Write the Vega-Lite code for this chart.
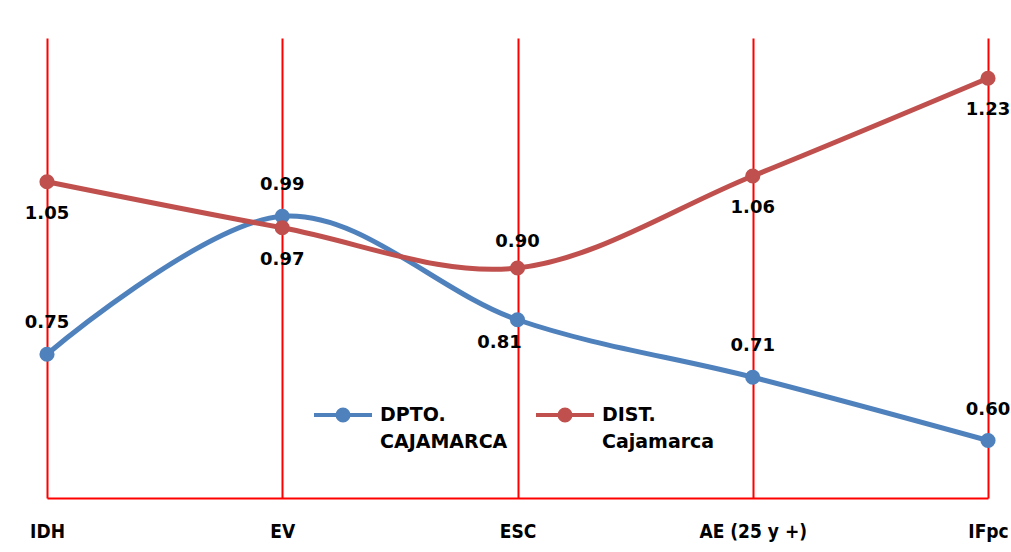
{
  "$schema": "https://vega.github.io/schema/vega-lite/v6.json",
  "width": 941,
  "height": 460,
  "autosize": {"type": "none"},
  "padding": {"left": 47, "top": 38, "right": 23, "bottom": 54},
  "background": "white",
  "config": {"view": {"stroke": null}},
  "data": {
    "values": [
      {"indicador": "IDH", "serie": "DPTO. CAJAMARCA", "valor": 0.75},
      {"indicador": "EV", "serie": "DPTO. CAJAMARCA", "valor": 0.99},
      {"indicador": "ESC", "serie": "DPTO. CAJAMARCA", "valor": 0.81},
      {"indicador": "AE (25 y +)", "serie": "DPTO. CAJAMARCA", "valor": 0.71},
      {"indicador": "IFpc", "serie": "DPTO. CAJAMARCA", "valor": 0.60},
      {"indicador": "IDH", "serie": "DIST. Cajamarca", "valor": 1.05},
      {"indicador": "EV", "serie": "DIST. Cajamarca", "valor": 0.97},
      {"indicador": "ESC", "serie": "DIST. Cajamarca", "valor": 0.90},
      {"indicador": "AE (25 y +)", "serie": "DIST. Cajamarca", "valor": 1.06},
      {"indicador": "IFpc", "serie": "DIST. Cajamarca", "valor": 1.23}
    ]
  },
  "encoding": {
    "x": {
      "field": "indicador",
      "type": "ordinal",
      "sort": ["IDH", "EV", "ESC", "AE (25 y +)", "IFpc"],
      "scale": {"type": "point", "padding": 0},
      "axis": {
        "title": null,
        "grid": true,
        "gridColor": "#ff0000",
        "gridWidth": 2,
        "gridOpacity": 1,
        "domainColor": "#ff0000",
        "domainWidth": 2,
        "ticks": false,
        "labelAngle": 0,
        "labelFont": "DejaVu Sans Condensed, Liberation Sans Narrow, sans-serif",
        "labelFontWeight": "bold",
        "labelFontSize": 19,
        "labelColor": "#000000",
        "labelPadding": 24,
        "labelBaseline": "top"
      }
    },
    "y": {
      "field": "valor",
      "type": "quantitative",
      "scale": {"domain": [0.5, 1.3], "nice": false, "zero": false},
      "axis": null
    }
  },
  "layer": [
    {
      "mark": {"type": "line", "interpolate": "cardinal", "strokeWidth": 5},
      "encoding": {
        "color": {
          "field": "serie",
          "type": "nominal",
          "scale": {"domain": ["DPTO. CAJAMARCA", "DIST. Cajamarca"], "range": ["#4F81BD", "#C0504D"]},
          "legend": {
            "title": null,
            "orient": "none",
            "legendX": 265,
            "legendY": 346,
            "direction": "horizontal",
            "symbolType": "M-1,0L1,0M-0.19,0A0.19,0.19,0,1,1,0.19,0A0.19,0.19,0,1,1,-0.19,0Z",
            "symbolSize": 3364,
            "symbolStrokeWidth": 4,
            "labelFont": "DejaVu Sans",
            "labelFontWeight": "bold",
            "labelFontSize": 19,
            "labelColor": "#000000",
            "labelOffset": 6,
            "labelLimit": 0,
            "columnPadding": 20,
            "padding": 0,
            "labelExpr": "split(datum.label, ' ')",
            "encode": {
              "symbols": {"update": {"fill": {"scale": "color", "field": "value"}, "stroke": {"scale": "color", "field": "value"}, "opacity": {"value": 1}}},
              "labels": {"update": {"lineHeight": {"value": 27}}}
            }
          }
        }
      }
    },
    {
      "mark": {"type": "point", "filled": true, "size": 230, "opacity": 1},
      "encoding": {
        "color": {
          "field": "serie",
          "type": "nominal",
          "legend": {
            "title": null,
            "orient": "none",
            "legendX": 265,
            "legendY": 346,
            "direction": "horizontal",
            "symbolType": "M-1,0L1,0M-0.19,0A0.19,0.19,0,1,1,0.19,0A0.19,0.19,0,1,1,-0.19,0Z",
            "symbolSize": 3364,
            "symbolStrokeWidth": 4,
            "labelFont": "DejaVu Sans",
            "labelFontWeight": "bold",
            "labelFontSize": 19,
            "labelColor": "#000000",
            "labelOffset": 6,
            "labelLimit": 0,
            "columnPadding": 20,
            "padding": 0,
            "labelExpr": "split(datum.label, ' ')",
            "encode": {
              "symbols": {"update": {"fill": {"scale": "color", "field": "value"}, "stroke": {"scale": "color", "field": "value"}, "opacity": {"value": 1}}},
              "labels": {"update": {"lineHeight": {"value": 27}}}
            }
          }
        }
      }
    },
    {
      "transform": [{"filter": "datum.serie == 'DPTO. CAJAMARCA' && datum.indicador != 'ESC'"}],
      "mark": {"type": "text", "font": "DejaVu Sans", "fontWeight": "bold", "fontSize": 18, "color": "#000000", "baseline": "middle", "dy": -31},
      "encoding": {"text": {"field": "valor", "type": "quantitative", "format": ".2f"}}
    },
    {
      "transform": [{"filter": "datum.serie == 'DIST. Cajamarca' && datum.indicador != 'ESC'"}],
      "mark": {"type": "text", "font": "DejaVu Sans", "fontWeight": "bold", "fontSize": 18, "color": "#000000", "baseline": "middle", "dy": 32},
      "encoding": {"text": {"field": "valor", "type": "quantitative", "format": ".2f"}}
    },
    {
      "transform": [{"filter": "datum.serie == 'DIST. Cajamarca' && datum.indicador == 'ESC'"}],
      "mark": {"type": "text", "font": "DejaVu Sans", "fontWeight": "bold", "fontSize": 18, "color": "#000000", "baseline": "middle", "dy": -26},
      "encoding": {"text": {"field": "valor", "type": "quantitative", "format": ".2f"}}
    },
    {
      "transform": [{"filter": "datum.serie == 'DPTO. CAJAMARCA' && datum.indicador == 'ESC'"}],
      "mark": {"type": "text", "font": "DejaVu Sans", "fontWeight": "bold", "fontSize": 18, "color": "#000000", "baseline": "middle", "dy": 23, "dx": -18},
      "encoding": {"text": {"field": "valor", "type": "quantitative", "format": ".2f"}}
    }
  ]
}
